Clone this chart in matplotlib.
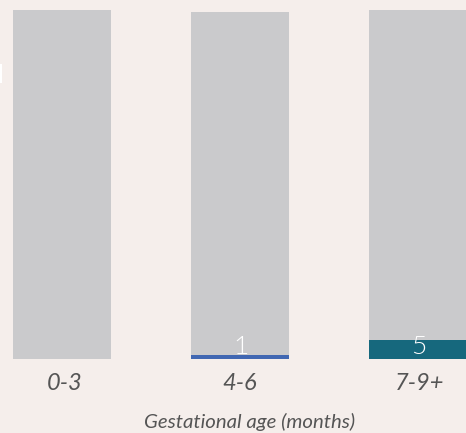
import matplotlib
matplotlib.use("Agg")
import matplotlib.pyplot as plt
from matplotlib.patches import Rectangle
import matplotlib.transforms as mtransforms

# Data
categories = ["0-3", "4-6", "7-9+"]
other_counts = [92, 90.5, 87]       # grey remainder
blue_counts = [0, 1, 0]
teal_counts = [0, 0, 5]
value_labels = ["", "1", "5"]

BG = "#f5eeeb"
GREY = "#cacacc"
BLUE = "#4067b2"
TEAL = "#16687d"

W, H, DPI = 466, 433, 100
fig = plt.figure(figsize=(W / DPI, H / DPI), dpi=DPI, facecolor=BG)

px_per_unit_x = 178.0
first_center = 62.0
px_per_unit_y = 349 / 92.0
base_px = 359.0  # baseline, pixels from top

ax = fig.add_axes([0, (H - base_px) / H, 1, base_px / H])
ax.set_facecolor(BG)
ax.set_xlim(-first_center / px_per_unit_x, (W - first_center) / px_per_unit_x)
ax.set_ylim(0, base_px / px_per_unit_y)

x = list(range(len(categories)))
width = 98 / px_per_unit_x
colored = [b + t for b, t in zip(blue_counts, teal_counts)]

ax.bar(x, blue_counts, width=width, color=BLUE, linewidth=0)
ax.bar(x, teal_counts, width=width, bottom=blue_counts, color=TEAL, linewidth=0)
ax.bar(x, other_counts, width=width, bottom=colored, color=GREY, linewidth=0)

for xi, lab in zip(x, value_labels):
    if lab:
        ax.annotate(lab, xy=(xi, 0), xytext=(0.5, 12.5 * 72 / DPI),
                    textcoords="offset points", ha="center", va="center",
                    color="white", fontsize=19, family="Lato",
                    fontweight=300, annotation_clip=False, zorder=5)

for s in ax.spines.values():
    s.set_visible(False)
ax.tick_params(axis="both", length=0)
ax.set_yticks([])
ax.set_xticks(x)
ax.set_xticklabels(categories, fontsize=17, family="Lato", style="italic",
                   color="#555555")
ax.tick_params(axis="x", pad=10)
# labels sit a little right of the bar centres
shifts = [3, 0, 2]
for lbl, dx in zip(ax.get_xticklabels(), shifts):
    lbl.set_transform(lbl.get_transform() +
                      mtransforms.ScaledTranslation(dx / DPI, 0, fig.dpi_scale_trans))

fig.text(249.5 / W, 1 - 422 / H, "Gestational age (months)", ha="center",
         va="center", fontsize=14.7, family="Lato", style="italic",
         color="#555555")

# clipped white marker at the left edge
fig.patches.append(Rectangle((0, 1 - 83 / H), 1.5 / W, 19 / H,
                             transform=fig.transFigure, color="white",
                             linewidth=0))

fig.savefig("out.png", dpi=DPI, facecolor=BG)
